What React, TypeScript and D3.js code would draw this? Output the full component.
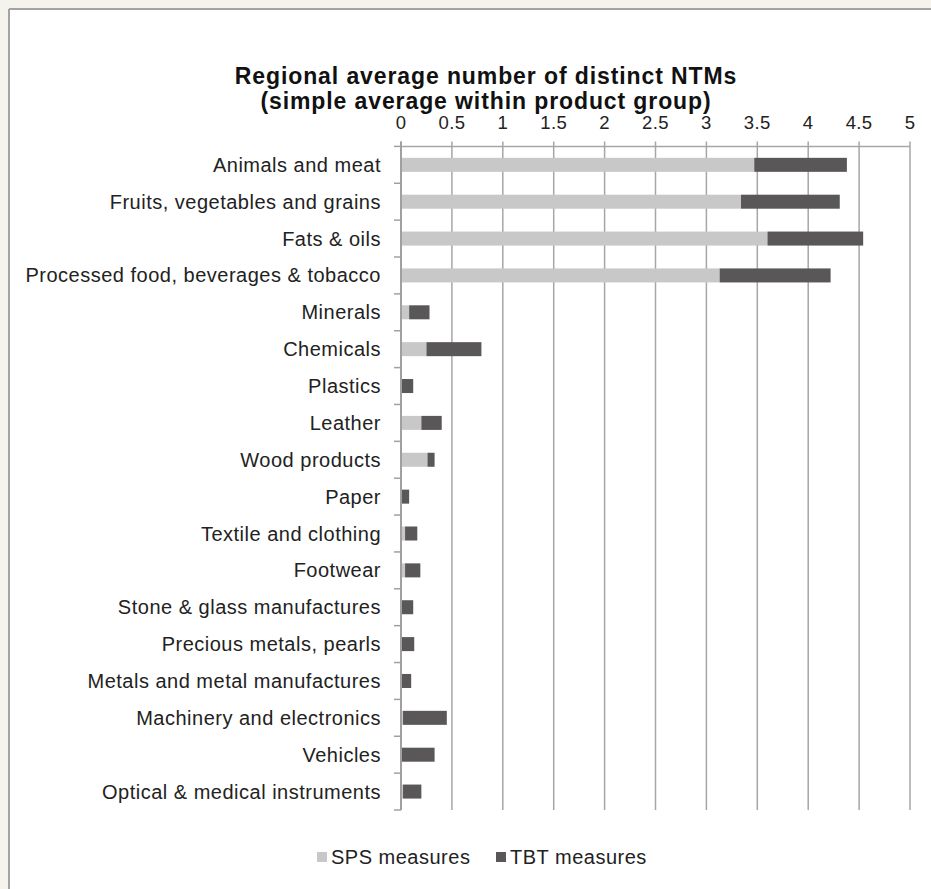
import React from 'react';
import * as d3 from 'd3';

const categories = [
  'Animals and meat',
  'Fruits, vegetables and grains',
  'Fats & oils',
  'Processed food, beverages & tobacco',
  'Minerals',
  'Chemicals',
  'Plastics',
  'Leather',
  'Wood products',
  'Paper',
  'Textile and clothing',
  'Footwear',
  'Stone & glass manufactures',
  'Precious metals, pearls',
  'Metals and metal manufactures',
  'Machinery and electronics',
  'Vehicles',
  'Optical & medical instruments',
];

const spsValues = [3.47, 3.34, 3.6, 3.13, 0.08, 0.25, 0, 0.2, 0.26, 0, 0.04, 0.04, 0, 0, 0, 0.02, 0, 0.02];
const tbtValues = [0.91, 0.97, 0.94, 1.09, 0.2, 0.54, 0.12, 0.2, 0.07, 0.08, 0.12, 0.15, 0.12, 0.13, 0.1, 0.43, 0.33, 0.18];

const xTicks = [0, 0.5, 1, 1.5, 2, 2.5, 3, 3.5, 4, 4.5, 5];
const seriesNames = ['SPS measures', 'TBT measures'];
const seriesColors = ['#c8c8c8', '#595758'];

const W = 931;
const H = 889;
const FONT = '"Liberation Sans", Arial, Helvetica, sans-serif';

export default function App() {
  const x = d3.scaleLinear().domain([0, 5]).range([401, 910]);
  // full band per category (ticks, labels)
  const y = d3.scaleBand<string>().domain(categories).range([146.4, 810]);
  // bar band, centred in each category slot
  const bar = d3
    .scaleBand<string>()
    .domain(categories)
    .range([146.4, 810])
    .paddingInner(0.62)
    .paddingOuter(0.31);

  const top = y.range()[0];
  const bottom = y.range()[1];

  return (
    <svg
      width={W}
      height={H}
      style={{ position: 'absolute', left: 0, top: 0, display: 'block' }}
      fontFamily={FONT}
    >
      <rect x={0} y={0} width={W} height={H} fill="#f4f3ee" />
      <rect x={9} y={9} width={W} height={H} fill="#ffffff" />
      <line x1={9} y1={9} x2={W} y2={9} stroke="#a3a3a3" strokeWidth={2} />
      <line x1={9} y1={9} x2={9} y2={H} stroke="#a3a3a3" strokeWidth={2} />

      {/* title */}
      <text x={486} y={84} textAnchor="middle" fontSize={23} letterSpacing={0.9} fontWeight="bold" fill="#111">
        Regional average number of distinct NTMs
      </text>
      <text x={486} y={109} textAnchor="middle" fontSize={23} letterSpacing={0.9} fontWeight="bold" fill="#111">
        (simple average within product group)
      </text>

      {/* gridlines + top value axis */}
      {xTicks.map((t) => (
        <line key={'g' + t} x1={x(t)} x2={x(t)} y1={top - 5} y2={bottom} stroke="#a6a6a6" strokeWidth={1.5} />
      ))}
      <line x1={x(0)} x2={x(5)} y1={top} y2={top} stroke="#a6a6a6" strokeWidth={1.5} />
      {xTicks.map((t) => (
        <text key={'t' + t} x={x(t)} y={129} textAnchor="middle" fontSize={18.5} letterSpacing={0.4} fill="#222">
          {t}
        </text>
      ))}

      {/* stacked bars */}
      {categories.map((c, i) => (
        <g key={c}>
          <rect
            x={x(0)}
            y={bar(c)}
            width={x(spsValues[i]) - x(0)}
            height={bar.bandwidth()}
            fill={seriesColors[0]}
          />
          <rect
            x={x(spsValues[i])}
            y={bar(c)}
            width={x(spsValues[i] + tbtValues[i]) - x(spsValues[i])}
            height={bar.bandwidth()}
            fill={seriesColors[1]}
          />
        </g>
      ))}

      {/* category axis */}
      <line x1={x(0)} x2={x(0)} y1={top - 5} y2={bottom} stroke="#a0a0a0" strokeWidth={2} />
      {categories.map((c) => (
        <line key={'k' + c} x1={394} x2={x(0)} y1={y(c)} y2={y(c)} stroke="#a0a0a0" strokeWidth={1.5} />
      ))}
      <line x1={394} x2={x(0)} y1={bottom} y2={bottom} stroke="#a0a0a0" strokeWidth={1.5} />
      {categories.map((c) => (
        <text
          key={'l' + c}
          x={381}
          y={(y(c) ?? 0) + y.bandwidth() / 2}
          dy="0.35em"
          textAnchor="end"
          fontSize={20}
          letterSpacing={0.5}
          fill="#222"
        >
          {c}
        </text>
      ))}

      {/* legend */}
      {seriesNames.map((s, i) => {
        const lx = i === 0 ? 317 : 496;
        return (
          <g key={s}>
            <rect x={lx} y={852} width={10} height={10} fill={seriesColors[i]} />
            <text x={lx + 14} y={857} dy="0.35em" fontSize={20} letterSpacing={0.5} fill="#222">
              {s}
            </text>
          </g>
        );
      })}
    </svg>
  );
}
